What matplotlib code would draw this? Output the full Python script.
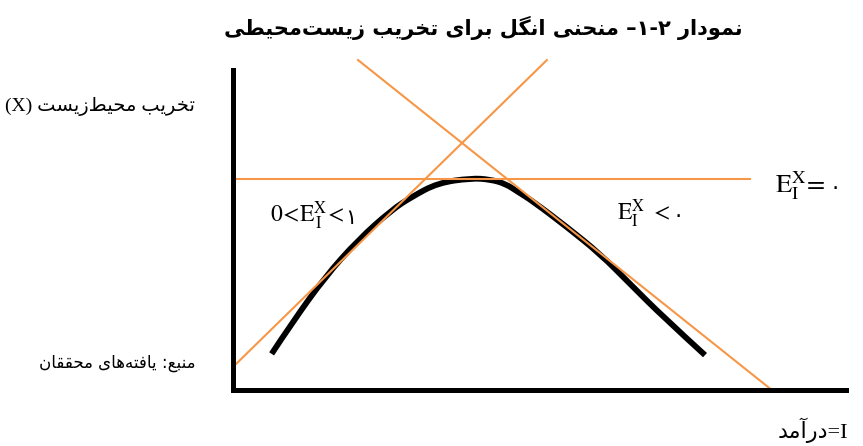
import matplotlib
matplotlib.use("Agg")
import matplotlib.pyplot as plt
from matplotlib.path import Path
from matplotlib.patches import PathPatch

# forms: isolated, final, initial, medial (presentation forms)
FORMS = {
    'ا': ('\uFE8D', '\uFE8E'), 'آ': ('\uFE81', '\uFE82'),
    'د': ('\uFEA9', '\uFEAA'), 'ر': ('\uFEAD', '\uFEAE'),
    'ز': ('\uFEAF', '\uFEB0'), 'و': ('\uFEED', '\uFEEE'),
    'ب': ('\uFE8F', '\uFE90', '\uFE91', '\uFE92'),
    'ت': ('\uFE95', '\uFE96', '\uFE97', '\uFE98'),
    'ح': ('\uFEA1', '\uFEA2', '\uFEA3', '\uFEA4'),
    'خ': ('\uFEA5', '\uFEA6', '\uFEA7', '\uFEA8'),
    'س': ('\uFEB1', '\uFEB2', '\uFEB3', '\uFEB4'),
    'ط': ('\uFEC1', '\uFEC2', '\uFEC3', '\uFEC4'),
    'ع': ('\uFEC9', '\uFECA', '\uFECB', '\uFECC'),
    'ف': ('\uFED1', '\uFED2', '\uFED3', '\uFED4'),
    'ق': ('\uFED5', '\uFED6', '\uFED7', '\uFED8'),
    'ل': ('\uFEDD', '\uFEDE', '\uFEDF', '\uFEE0'),
    'م': ('\uFEE1', '\uFEE2', '\uFEE3', '\uFEE4'),
    'ن': ('\uFEE5', '\uFEE6', '\uFEE7', '\uFEE8'),
    'ه': ('\uFEE9', '\uFEEA', '\uFEEB', '\uFEEC'),
    'ی': ('\uFBFC', '\uFBFD', '\uFBFE', '\uFBFF'),
    'گ': ('\uFB92', '\uFB93', '\uFB94', '\uFB95'),
}


def shape(s):
    # join the letters and turn the string round for right-to-left display
    out = []
    for i, c in enumerate(s):
        if c not in FORMS:
            out.append('' if c == '\u200c' else c)
            continue
        prev = s[i - 1] if i > 0 else ''
        nxt = s[i + 1] if i + 1 < len(s) else ''
        f = FORMS[c]
        jp = prev in FORMS and len(FORMS[prev]) == 4
        jn = len(f) == 4 and nxt in FORMS
        if jp and jn:
            out.append(f[3])
        elif jp:
            out.append(f[1])
        elif jn:
            out.append(f[2])
        else:
            out.append(f[0])
    return ''.join(out)[::-1]


# curve (income, degradation), arbitrary units 0-100
curve_x = [6.3, 9.6, 15.0, 20.4, 25.9, 29.2, 33.4, 38.9, 41.9, 44.4, 46.5, 48.9, 54.5, 59.9, 64.8, 70.2, 77.0]
curve_y = [11.3, 20.9, 35.3, 46.9, 56.3, 60.4, 64.7, 66.2, 65.8, 64.5, 61.9, 59.0, 50.9, 42.5, 33.1, 22.8, 10.9]

# the three tangent lines (end points)
flat_x = [0.3, 84.3]
flat_y = [65.8, 65.8]
rise_x = [0.05, 51.2]
rise_y = [7.3, 103.1]
fall_x = [20.4, 87.9]
fall_y = [103.1, 0.0]

title = shape('منحنی انگل برای تخریب زیست\u200cمحیطی') + ' –۱-۲ ' + shape('نمودار')
ylab = '(X) ' + shape('تخریب محیط\u200cزیست')
source = shape('منبع: یافته\u200cهای محققان')
xlab = shape('درآمد') + '=I'

plt.rcParams['mathtext.fontset'] = 'stix'
W, H = 863, 446
fig = plt.figure(figsize=(W / 100, H / 100), dpi=100)
ax = fig.add_axes([233 / W, 1 - 390 / H, (846 - 233) / W, (390 - 70) / H])
ax.set_xlim(0, 100)
ax.set_ylim(0, 100)
for s in ['top', 'right']:
    ax.spines[s].set_visible(False)
for s in ['left', 'bottom']:
    ax.spines[s].set_linewidth(3.6)
    ax.spines[s].set_capstyle('projecting')
ax.set_xticks([])
ax.set_yticks([])

orange = '#F79646'
ax.plot(flat_x, flat_y, color=orange, lw=1.5, clip_on=False)
ax.plot(rise_x, rise_y, color=orange, lw=1.5, clip_on=False)
ax.plot(fall_x, fall_y, color=orange, lw=1.5, clip_on=False)

# smooth the read points with quadratic bezier pieces
pts = list(zip(curve_x, curve_y))
verts = [pts[0]]
codes = [Path.MOVETO]
for i in range(1, len(pts) - 1):
    nx, ny = pts[i + 1]
    if i < len(pts) - 2:
        end = ((pts[i][0] + nx) / 2, (pts[i][1] + ny) / 2)
    else:
        end = pts[i + 1]
    verts += [pts[i], end]
    codes += [Path.CURVE3, Path.CURVE3]
ax.add_patch(PathPatch(Path(verts, codes), facecolor='none', edgecolor='black',
                       lw=4.2, capstyle='butt', zorder=1))

fam = ['Liberation Serif', 'DejaVu Sans']
fig.text(483 / W, 1 - 28 / H, title, ha='center', va='center', fontsize=15,
         fontweight='bold', family='DejaVu Sans')
fig.text(195 / W, 1 - 106 / H, ylab, ha='right', va='center', fontsize=14, family=fam)
fig.text(195 / W, 1 - 363 / H, source, ha='right', va='center', fontsize=12, family='DejaVu Sans')
fig.text(848 / W, 1 - 430 / H, xlab, ha='right', va='center', fontsize=16, family=fam)


def elabel(x, y, math, digit, size=17, gap=1):
    t = fig.text(x / W, 1 - y / H, math, ha='left', va='baseline', fontsize=size)
    ax.annotate(digit, xy=(1, 0), xycoords=t, xytext=(gap, 3), textcoords='offset points',
                ha='left', va='bottom', fontsize=15, family='DejaVu Sans')


elabel(270, 223, r'$0\!<\!\mathrm{E}_{\,\mathrm{I}}^{\mathrm{X}}\!<$', '۱')
elabel(617, 221, r'$\mathrm{E}_{\mathrm{I}}^{\mathrm{X}}\ <$', '۰')
elabel(775, 193, r'$\mathrm{E}_{\mathrm{I}}^{\mathrm{X}}\!=$', '۰', size=19, gap=3)

fig.savefig('out.png', dpi=100)
